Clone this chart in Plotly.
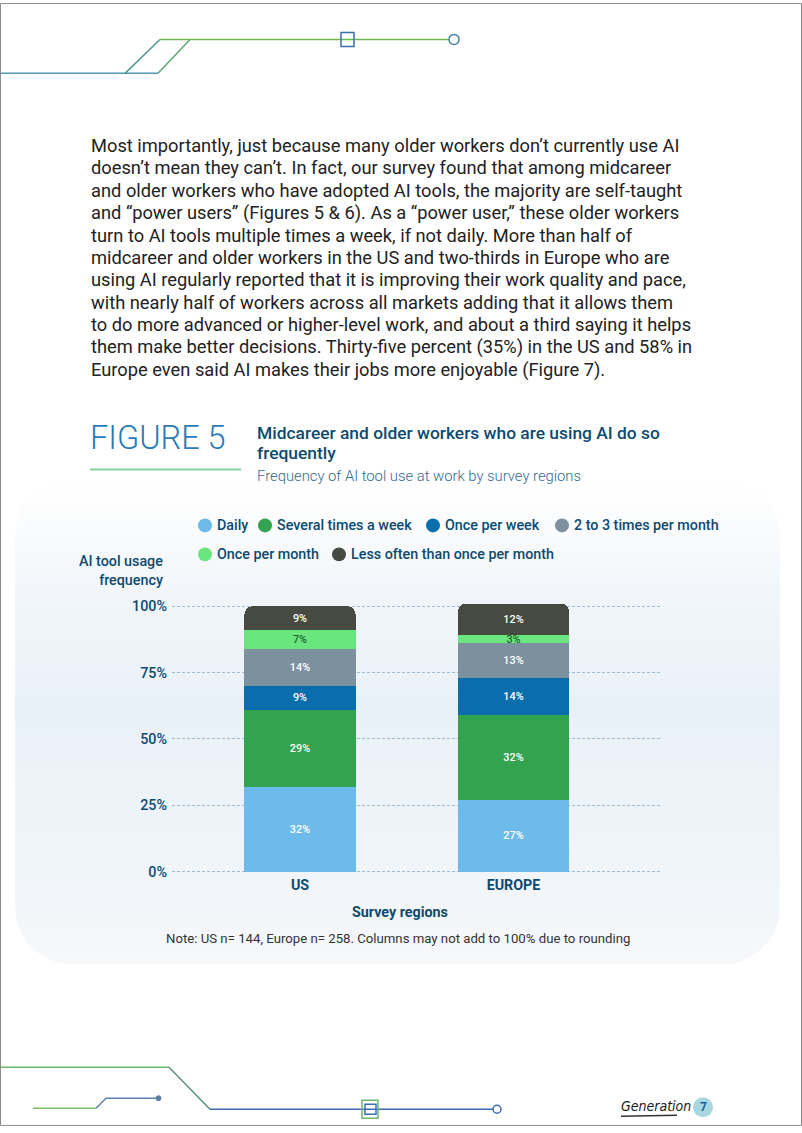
import math
import plotly.graph_objects as go

# ---------------- data ----------------
regions = ["US", "EUROPE"]
categories = ["Daily", "Several times a week", "Once per week",
              "2 to 3 times per month", "Once per month", "Less often than once per month"]
daily = [32, 27]
several = [29, 32]
once_week = [9, 14]
two_three = [14, 13]
once_month = [7, 3]
less_often = [9, 12]
series = [daily, several, once_week, two_three, once_month, less_often]
colors = ["#6cbbea", "#34a34f", "#0a6ead", "#7d909e", "#6be57d", "#474a40"]
label_colors = ["#ffffff", "#ffffff", "#ffffff", "#ffffff", "#1e6b30", "#ffffff"]
y_ticks = [0, 25, 50, 75, 100]
y_tick_labels = ["0%", "25%", "50%", "75%", "100%"]

paragraph = [
    "Most importantly, just because many older workers don\u2019t currently use AI",
    "doesn\u2019t mean they can\u2019t. In fact, our survey found that among midcareer",
    "and older workers who have adopted AI tools, the majority are self-taught",
    "and \u201cpower users\u201d (Figures 5 & 6). As a \u201cpower user,\u201d these older workers",
    "turn to AI tools multiple times a week, if not daily. More than half of",
    "midcareer and older workers in the US and two-thirds in Europe who are",
    "using AI regularly reported that it is improving their work quality and pace,",
    "with nearly half of workers across all markets adding that it allows them",
    "to do more advanced or higher-level work, and about a third saying it helps",
    "them make better decisions. Thirty-five percent (35%) in the US and 58% in",
    "Europe even said AI makes their jobs more enjoyable (Figure 7).",
]

W, H = 802, 1133          # page coordinate system (pixels of the reference page)
FONT = "Roboto"
NAVY = "#0d4a70"

# vertical calibration of the page coordinate system
Y_TOP, Y_SPAN = 0.5, 1125.3
def paper_y(ref_y):
    return 1 - (ref_y - Y_TOP) / Y_SPAN

fig = go.Figure()

# ---- background panel (gradient) on full-page pixel axes ----
px_, py_ = [], []
x0, x1, y0, y1, r = 15, 780, 476, 964, 58
def arc(cx, cy, a0, a1):
    for i in range(13):
        a = math.radians(a0 + (a1 - a0) * i / 12)
        px_.append(cx + r * math.cos(a)); py_.append(cy + r * math.sin(a))
arc(x0 + r, y0 + r, 180, 270)
arc(x1 - r, y0 + r, 270, 360)
arc(x1 - r, y1 - r, 0, 90)
arc(x0 + r, y1 - r, 90, 180)
px_.append(px_[0]); py_.append(py_[0])
fig.add_trace(go.Scatter(
    x=px_, y=py_, xaxis="x", yaxis="y", mode="lines", fill="toself",
    line=dict(width=0, color="rgba(0,0,0,0)"),
    fillgradient=dict(type="vertical", start=y0, stop=y1,
                      colorscale=[[0, "#ffffff"], [0.08, "#fbfcfd"], [0.22, "#f2f6fa"],
                                  [0.45, "#e9f1f8"], [0.72, "#eef4f9"], [1, "#f7f8fa"]]),
    hoverinfo="skip", showlegend=False))

# ---- stacked bars ----
for name, vals, c, tc in zip(categories, series, colors, label_colors):
    fig.add_trace(go.Bar(
        x=regions, y=vals, name=name, xaxis="x2", yaxis="y2",
        marker=dict(color=c, line=dict(width=0)),
        width=0.52,
        text=[f"{v}%" for v in vals], textposition="inside", insidetextanchor="middle",
        textfont=dict(family=FONT, size=10.8, color=tc, weight=500),
        hoverinfo="skip", showlegend=False))

shapes = []
annotations = []

def txt(x, y, s, size, color, weight=400, xanchor="left", family=FONT, align="left", style="normal"):
    annotations.append(dict(x=x, y=y, xref="x", yref="y", text=s, showarrow=False,
                            xanchor=xanchor, yanchor="middle", align=align,
                            font=dict(family=family, size=size, color=color, weight=weight, style=style)))

# paragraph
for i, line in enumerate(paragraph):
    txt(89, 143 + i * 22.5, line, 18.3, "#222222")

# figure heading
txt(88, 436, "FIGURE 5", 32.5, "#2a7bb6", weight=300)
shapes.append(dict(type="line", xref="x", yref="y", x0=90, x1=241, y0=468, y1=468,
                   line=dict(color="#86d19d", width=2)))
txt(255, 431, "Midcareer and older workers who are using AI do so", 17.4, NAVY, weight=500)
txt(255, 451, "frequently", 17.4, NAVY, weight=500)
txt(255, 474, "Frequency of AI tool use at work by survey regions", 14.8, "#2f6c93", weight=300)

# legend (circle + text)
legend_pos = [(205, 524), (265, 524), (433, 524), (562, 524), (205, 553), (339, 553)]
for (cx, cy), name, c in zip(legend_pos, categories, colors):
    shapes.append(dict(type="circle", xref="x", yref="y", x0=cx - 7, x1=cx + 7, y0=cy - 7, y1=cy + 7,
                       fillcolor=c, line=dict(width=0)))
    txt(cx + 10, cy, name, 14.3, NAVY, weight=500)

# y axis title
annotations.append(dict(x=165, y=569, xref="x", yref="y", text="AI tool usage<br>frequency",
                        showarrow=False, xanchor="right", yanchor="middle", align="right",
                        font=dict(family=FONT, size=14.3, color=NAVY, weight=500)))
# x axis title and note
txt(400, 911, "Survey regions", 14.3, NAVY, weight=700, xanchor="center")
txt(398, 938, "Note: US n= 144, Europe n= 258. Columns may not add to 100% due to rounding",
    13.2, "#333333", xanchor="center")

# ---- decorations ----
def ln(xa, ya, xb, yb, c, w=1.5):
    shapes.append(dict(type="line", xref="x", yref="y", x0=xa, y0=ya, x1=xb, y1=yb,
                       line=dict(color=c, width=w)))
# top
ln(0, 71, 158, 71, "#4f97b0")
ln(125, 71, 160, 37, "#4e9a8c")
ln(158, 71, 190, 37, "#5aa874")
ln(160, 37, 449, 37, "#6cb84e")
shapes.append(dict(type="rect", xref="x", yref="y", x0=341, x1=354, y0=30, y1=44,
                   line=dict(color="#3a70b0", width=1.5)))
shapes.append(dict(type="circle", xref="x", yref="y", x0=449, x1=459, y0=32, y1=42,
                   line=dict(color="#4a86a8", width=1.5)))
# bottom
ln(0, 1067, 169, 1067, "#6cb86a")
ln(169, 1067, 210, 1109, "#5a9080")
ln(210, 1109, 493, 1109, "#3d6db0")
shapes.append(dict(type="rect", xref="x", yref="y", x0=362, x1=378, y0=1100, y1=1118,
                   line=dict(color="#6cb86a", width=1.5)))
shapes.append(dict(type="rect", xref="x", yref="y", x0=365, x1=376, y0=1104, y1=1114,
                   line=dict(color="#3d6db0", width=1.5)))
shapes.append(dict(type="circle", xref="x", yref="y", x0=493, x1=501, y0=1105, y1=1113,
                   line=dict(color="#3d6db0", width=1.5)))
ln(33, 1108, 96, 1108, "#7cbf6a")
ln(96, 1108, 106, 1098, "#5a80a8")
ln(106, 1098, 157, 1098, "#5a80a8")
shapes.append(dict(type="circle", xref="x", yref="y", x0=156, x1=161, y0=1095.5, y1=1100.5,
                   fillcolor="#5a80a8", line=dict(color="#5a80a8", width=1)))

# logo + page number
txt(619, 1106, "Generation", 14, "#1a1a1a", family="DejaVu Sans Condensed", style="italic")
ln(621, 1116, 677, 1115, "#333333", 1.5)
shapes.append(dict(type="circle", xref="x", yref="y", x0=693, x1=713, y0=1097, y1=1117,
                   fillcolor="#a9d7df", line=dict(width=0)))
txt(703, 1107, "7", 12, "#1c5fa0", weight=700, xanchor="center")

# page border (paper-referenced so it always hugs the picture edge)
shapes.append(dict(type="rect", xref="paper", yref="paper", x0=0.0006, x1=0.9994, y0=0.0005, y1=0.9995,
                   line=dict(color="#8a8a8a", width=1)))

# ---- axes geometry ----
ppu = 2.66  # pixels per percent
y_lo, y_hi = -0.5, 102
y_bot_px = 871 - y_lo * ppu
y_top_px = 871 - y_hi * ppu
x_left_px, x_right_px = 172, 660
ppc = 213.5
c0 = 300

fig.update_layout(
    margin=dict(l=0, r=0, t=0, b=0), autosize=True,
    paper_bgcolor="#ffffff", plot_bgcolor="rgba(0,0,0,0)",
    barmode="stack", barcornerradius=8,
    uniformtext=dict(minsize=10.8, mode="show"),
    showlegend=False,
    xaxis=dict(domain=[0, 1], range=[0, W], visible=False, fixedrange=True),
    yaxis=dict(domain=[0, 1], range=[Y_TOP + Y_SPAN, Y_TOP], visible=False, fixedrange=True),
    xaxis2=dict(domain=[x_left_px / W, x_right_px / W], anchor="y2",
                range=[(x_left_px - c0) / ppc, (x_right_px - c0) / ppc],
                showgrid=False, zeroline=False, showline=False, ticks="",
                tickfont=dict(family=FONT, size=14.3, color=NAVY, weight=700),
                ticklabelstandoff=2),
    yaxis2=dict(domain=[paper_y(y_bot_px), paper_y(y_top_px)], anchor="x2",
                range=[y_lo, y_hi], tickvals=y_ticks, ticktext=y_tick_labels,
                showgrid=True, gridcolor="#9dbdd6", gridwidth=1, griddash="3px,2px",
                zeroline=False, showline=False, ticks="",
                tickfont=dict(family=FONT, size=14.3, color=NAVY, weight=500),
                ticklabelstandoff=4),
    shapes=shapes, annotations=annotations,
)

css_js = (
    "var s=document.createElement('style');"
    "s.innerHTML='html,body{margin:0!important;padding:0!important;overflow:hidden;}';"
    "document.head.appendChild(s);"
)
fig.write_html("out.html", config={"displayModeBar": False, "responsive": True},
               default_width="100vw", default_height="100vh", post_script=css_js)
